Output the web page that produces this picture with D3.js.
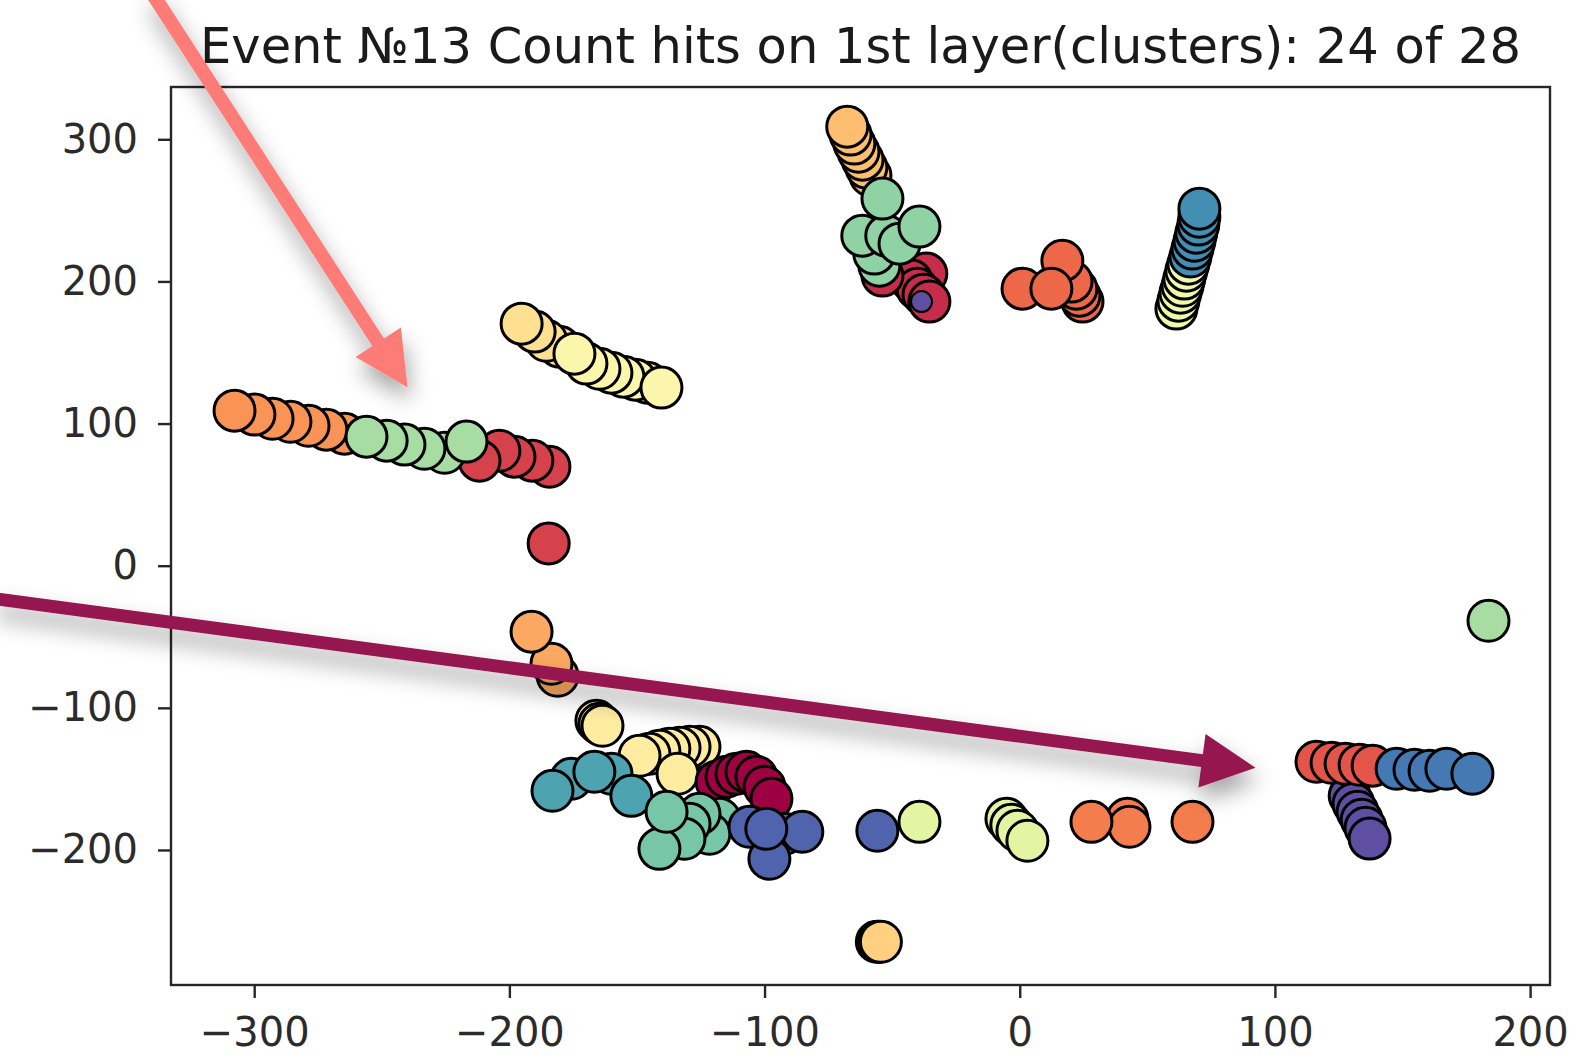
<!DOCTYPE html>
<html>
<head>
<meta charset="utf-8">
<script src="https://cdn.jsdelivr.net/npm/d3@7"></script>
<style>
  html, body { margin: 0; padding: 0; background: #fff; }
  svg { display: block; font-family: "DejaVu Sans", sans-serif; }
</style>
</head>
<body>
<svg id="chart" width="1573" height="1056"></svg>
<script>
// Hits on the first detector layer, one entry per hit, listed in drawing order.
// hitLabel is the cluster id; colours come from the Spectral colour map over 28 clusters.
const hitX = [
  // orange track
  -264.6, -271.7, -278.7, -285.8, -292.8, -299.9, -307.7,
  // red track + lone red hit
  -184.3, -191.0, -198.0, -203.9, -211.7, -184.6,
  // light green track
  -225.4, -233.3, -241.1, -248.1, -256.0, -216.8,
  // yellow track
  -180.4, -185.5, -190.1, -195.2,
  // pale yellow track
  -145.9, -150.6, -155.3, -160.0, -164.7, -169.8, -174.5, -140.4,
  // top: light orange stack
  -58.5, -60.1, -61.6, -63.2, -64.8, -66.3, -67.6,
  // top: crimson
  -36.6, -42.4, -40.1, -37.7, -35.4, -53.8,
  // top: green
  -55.0, -57.0, -61.7, -52.3, -47.1, -53.8, -39.3,
  // red-orange group
  24.6, 23.4, 22.2, 20.3, 16.7, 1.1, 12.4,
  // yellow-green stack
  61.4, 62.2, 63.0, 63.8, 64.5, 65.3, 66.1,
  // blue stack
  66.9, 67.7, 68.5, 69.2, 70.0, 70.4, 70.4,
  // orange pair below zero
  -181.1, -183.5, -191.3,
  // lower left: pale yellow
  -165.9, -164.7, -163.5,
  -125.5, -129.4, -133.3, -137.3, -141.2, -145.1, -149.0, -134.1,
  // lower left: teal
  -175.7, -160.0, -152.2, -183.1, -166.7,
  // lower left: dark crimson
  -118.8, -114.9, -111.0, -107.1, -103.2, -100.0, -97.3,
  // lower left: green-teal
  -117.7, -121.6, -125.5, -129.4, -131.4, -141.2, -138.4,
  // lower left: blue
  -105.9, -92.2, -98.1, -85.2, -99.3,
  // lower middle
  -55.8, -39.3,
  -5.2, -3.3, -0.9, 3.0,
  42.2, 43.0, 28.1, 67.7,
  // lower right: purple, red, blue
  129.3, 130.8, 132.4, 134.0, 135.5, 137.1,
  116.3, 122.2, 127.7, 133.2, 138.3,
  147.7, 154.7, 160.6, 167.2, 177.4,
  // lone green hit on the right
  183.7,
  // bottom yellow
  -56.0, -55.2, -54.4
];

const hitY = [
  92.9, 95.7, 98.5, 101.3, 103.4, 106.3, 109.1,
  69.7, 73.9, 76.7, 80.9, 73.9, 15.7,
  79.5, 82.3, 85.2, 88.0, 90.8, 87.3,
  154.1, 158.3, 164.7, 170.3,
  128.8, 130.9, 133.0, 135.8, 138.6, 142.2, 149.2, 125.3,
  274.5, 280.1, 285.7, 291.3, 297.0, 303.3, 308.9,
  205.5, 200.6, 194.9, 190.7, 185.8, 204.1,
  211.1, 219.6, 232.2, 232.2, 226.6, 258.3, 238.6,
  185.8, 190.0, 194.9, 199.9, 214.6, 194.9, 194.9,
  180.9, 186.5, 192.1, 197.0, 202.0, 207.6, 212.5,
  217.5, 223.1, 228.7, 234.3, 240.0, 245.6, 251.2,
  -77.4, -69.0, -46.4,
  -109.1, -111.2, -112.6,
  -127.4, -127.4, -128.1, -128.8, -130.2, -132.3, -133.7, -146.4,
  -149.9, -146.4, -161.9, -158.3, -145.0,
  -152.0, -148.5, -146.4, -145.0, -148.5, -155.5, -164.0,
  -178.0, -188.6, -174.5, -181.6, -192.1, -199.2, -173.1,
  -183.7, -188.6, -206.2, -187.2, -185.1,
  -186.5, -180.2,
  -178.0, -182.3, -186.5, -193.5,
  -178.0, -183.7, -180.2, -180.2,
  -161.9, -167.5, -173.1, -178.7, -184.4, -192.0,
  -137.9, -138.6, -139.3, -140.0, -140.7,
  -142.9, -143.6, -144.3, -142.9, -146.4,
  -38.7,
  -264.6, -264.6, -264.6
];

const hitLabel = [
  7, 7, 7, 7, 7, 7, 7,
  3, 3, 3, 3, 3, 3,
  19, 19, 19, 19, 19, 19,
  11, 11, 11, 11,
  13, 13, 13, 13, 13, 13, 13, 13,
  9, 9, 9, 9, 9, 9, 9,
  2, 2, 2, 2, 2, 2,
  20, 20, 20, 20, 20, 20, 20,
  5, 5, 5, 5, 5, 5, 5,
  15, 15, 15, 15, 15, 15, 15,
  24, 24, 24, 24, 24, 24, 24,
  8, 8, 8,
  12, 12, 12,
  12, 12, 12, 12, 12, 12, 12, 12,
  23, 23, 23, 23, 23,
  0, 0, 0, 0, 0, 0, 0,
  21, 21, 21, 21, 21, 21, 21,
  26, 26, 26, 26, 26,
  26, 16,
  16, 16, 16, 16,
  6, 6, 6, 6,
  27, 27, 27, 27, 27, 27,
  4, 4, 4, 4, 4,
  25, 25, 25, 25, 25,
  19,
  10, 10, 10
];

// The reference hit of the event, drawn small on top.
const seedX = [-38.5];
const seedY = [185.8];
const seedLabel = [27];

const clusterCount = 28;
const xTicks = [-300, -200, -100, 0, 100, 200];
const yTicks = [-200, -100, 0, 100, 200, 300];
const xDomain = [-332.6, 207.8];
const yDomain = [-295, 336.8];
const titleText = "Event \u211613 Count hits on 1st layer(clusters): 24 of 28";

// Call-out arrows, endpoints in data units: [x, y]
const arrowFrom = [[-339.9, 402.5], [-401.8, -23.2]];
const arrowTo = [[-239.9, 125.3], [92.4, -142.2]];

// ---- drawing ----
const plot = { left: 171, top: 87, right: 1550, bottom: 985 };

const svg = d3.select("#chart");

const defs = svg.append("defs");
const shadow = defs.append("filter")
  .attr("id", "arrowShadow")
  .attr("x", "-50%").attr("y", "-50%")
  .attr("width", "200%").attr("height", "200%");
shadow.append("feDropShadow")
  .attr("dx", 3).attr("dy", 13)
  .attr("stdDeviation", 11)
  .attr("flood-color", "#000")
  .attr("flood-opacity", 0.36);

const x = d3.scaleLinear().domain(xDomain).range([plot.left, plot.right]);
const y = d3.scaleLinear().domain(yDomain).range([plot.bottom, plot.top]);
const color = d3.scaleSequential(d3.interpolateSpectral).domain([0, clusterCount - 1]);

const fmt = d3.format("d");

// axes
const gx = svg.append("g")
  .attr("transform", `translate(0,${plot.bottom})`)
  .call(d3.axisBottom(x).tickValues(xTicks).tickFormat(fmt).tickSize(13).tickPadding(20));
const gy = svg.append("g")
  .attr("transform", `translate(${plot.left},0)`)
  .call(d3.axisLeft(y).tickValues(yTicks).tickFormat(fmt).tickSize(13).tickPadding(20));

[gx, gy].forEach(g => {
  g.select(".domain").remove();
  g.selectAll(".tick line").attr("stroke", "#262626").attr("stroke-width", 2.4);
  g.selectAll(".tick text")
    .attr("fill", "#2b2b2b")
    .style("font-family", "'DejaVu Sans', sans-serif")
    .style("font-size", "40px");
});

// hits
const hits = hitX.map((v, i) => ({ x: v, y: hitY[i], label: hitLabel[i] }));
const plotG = svg.append("g");
plotG.selectAll("circle.hit")
  .data(hits)
  .join("circle")
  .attr("class", "hit")
  .attr("cx", d => x(d.x))
  .attr("cy", d => y(d.y))
  .attr("r", 20.5)
  .attr("fill", d => color(d.label))
  .attr("stroke", "#000")
  .attr("stroke-width", 3);

const seeds = seedX.map((v, i) => ({ x: v, y: seedY[i], label: seedLabel[i] }));
plotG.selectAll("circle.seed")
  .data(seeds)
  .join("circle")
  .attr("class", "seed")
  .attr("cx", d => x(d.x))
  .attr("cy", d => y(d.y))
  .attr("r", 10.5)
  .attr("fill", d => color(d.label))
  .attr("stroke", "#000")
  .attr("stroke-width", 2);

// frame
svg.append("rect")
  .attr("x", plot.left).attr("y", plot.top)
  .attr("width", plot.right - plot.left)
  .attr("height", plot.bottom - plot.top)
  .attr("fill", "none")
  .attr("stroke", "#262626")
  .attr("stroke-width", 2.4);

// title
svg.append("text")
  .attr("x", (plot.left + plot.right) / 2)
  .attr("y", 63)
  .attr("text-anchor", "middle")
  .attr("fill", "#1a1a1a")
  .style("font-size", "49.5px")
  .text(titleText);

// arrows
const arrowColors = ["#fd7b77", "#96164f"];
const arrowWidths = [14, 13];
const headLen = 54, headHalf = 27;
arrowFrom.forEach((from, i) => {
  const x0 = x(from[0]), y0 = y(from[1]);
  const x1 = x(arrowTo[i][0]), y1 = y(arrowTo[i][1]);
  const len = Math.hypot(x1 - x0, y1 - y0);
  const ux = (x1 - x0) / len, uy = (y1 - y0) / len;
  const bx = x1 - ux * headLen, by = y1 - uy * headLen;
  const g = svg.append("g").attr("filter", "url(#arrowShadow)");
  g.append("line")
    .attr("x1", x0).attr("y1", y0)
    .attr("x2", bx + ux * 2).attr("y2", by + uy * 2)
    .attr("stroke", arrowColors[i])
    .attr("stroke-width", arrowWidths[i]);
  g.append("path")
    .attr("d", `M${x1},${y1}L${bx - uy * headHalf},${by + ux * headHalf}L${bx + uy * headHalf},${by - ux * headHalf}Z`)
    .attr("fill", arrowColors[i]);
});
</script>
</body>
</html>
